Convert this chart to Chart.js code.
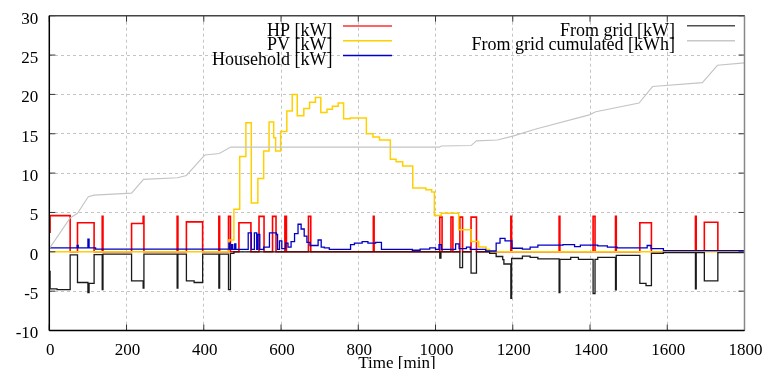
<!DOCTYPE html>
<html><head><meta charset="utf-8">
<script src="https://cdn.jsdelivr.net/npm/chart.js@4.4.1/dist/chart.umd.min.js"></script>
<style>html,body{margin:0;padding:0;background:#fff;overflow:hidden}#wrap{width:765px;height:369px;position:relative}</style>
</head><body><div id="wrap"><canvas id="c"></canvas></div>
<script>
// ---- axis ticks ----
const xTickValues = [0,200,400,600,800,1000,1200,1400,1600,1800];
const yTickValues = [-10,-5,0,5,10,15,20,25,30];
const xTitle = 'Time [min]';

// ---- series labels ----
const seriesLabels = ['HP [kW]','PV [kW]','Household [kW]','From grid [kW]','From grid cumulated [kWh]'];

// ---- HP [kW] (step: value holds from time until next time) ----
const hpTime = [0,2,54,73,116,137,139,213,243,245,331,333,355,397,439,441,464,469,491,522,543,556,578,587,610,614,671,677,839,841,1011,1017,1040,1045,1063,1070,1092,1106,1195,1197,1320,1322,1408,1413,1466,1468,1529,1559,1673,1675,1696,1731,1800];
const hpKW   = [2.5,4.6,0,3.7,0,4.5,0,3.6,4.5,0,4.5,0,3.8,0,4.5,0,4.5,0,3.7,0,4.5,0,4.5,0,4.5,0,4.5,0,4.5,0,4.4,0,4.4,0,4.4,0,4.4,0,4.5,0,4.5,0,4.5,0,4.5,0,3.7,0,4.5,0,3.75,0,0];

// ---- PV [kW] ----
const pvTime = [0,465,478,493,509,523,540,555,569,581,586,599,615,629,642,659,674,689,703,719,733,748,762,779,821,838,855,883,898,915,941,975,990,997,1015,1060,1092,1112,1131,1140,1800];
const pvKW   = [0,1.5,5.4,12.1,16.4,6.2,9.3,12.8,16.5,14.5,12.8,15.3,17.9,20.0,17.3,18.2,19.0,19.6,17.7,18.1,18.5,18.9,16.9,17.0,15.0,14.6,14.2,11.75,11.45,10.9,8.1,7.9,7.6,4.6,4.9,2.8,1.3,0.6,0.3,0,0];

// ---- Household [kW] ----
const hhTime = [0,72,75,100,103,120,460,465,468,472,475,480,483,490,515,523,531,537,540,545,555,570,588,591,596,602,612,618,626,635,644,652,660,667,675,696,704,712,725,780,790,810,825,845,860,940,960,985,1000,1009,1015,1052,1061,1080,1090,1130,1157,1167,1180,1198,1225,1245,1265,1330,1360,1375,1420,1445,1470,1548,1558,1590,1800];
const hhKW   = [0.5,0.8,0.5,1.6,0.5,0.35,0.35,1.1,0.3,0.9,0.3,1.0,0.3,0.3,2.4,0.3,2.4,0.3,2.2,0.3,0.6,2.4,2.2,0.3,1.4,0.4,1.1,0.6,1.3,2.3,3.5,2.9,2.0,1.2,0.8,1.5,0.6,0.5,0.3,0.9,1.1,1.3,1.1,1.2,0.3,0.2,0.35,0.5,0.3,0.9,0.3,1.0,0.4,0.6,0.3,0.1,1.1,1.7,1.4,0.45,0.33,0.6,0.85,0.9,0.65,0.85,0.75,0.6,0.5,0.8,0.4,0.15,0.15];

// ---- From grid [kW] ----
const gridTime = [0,2,20,54,73,100,103,116,137,139,213,243,245,331,333,355,375,397,439,441,464,469,478,1011,1014,1063,1070,1092,1106,1140,1157,1174,1177,1195,1197,1225,1245,1265,1320,1322,1350,1370,1408,1413,1420,1466,1468,1529,1545,1559,1590,1673,1675,1696,1731,1800];
const gridKW   = [-2.5,-4.7,-4.8,-0.4,-3.9,-5.2,-4.0,-0.35,-4.8,-0.3,-3.7,-4.6,-0.3,-4.6,-0.3,-3.7,-3.9,-0.3,-4.6,-0.3,-4.8,-0.2,0,-0.8,0,-2.0,0,-2.7,0,-0.2,-0.6,-1.0,-1.55,-5.9,-0.85,-0.55,-0.7,-0.9,-5.2,-0.95,-0.7,-0.95,-5.3,-0.95,-0.7,-4.85,-0.45,-4.0,-4.3,-0.2,-0.1,-4.7,-0.1,-3.7,-0.1,-0.1];

// ---- From grid cumulated [kWh] (linear) ----
const cumTime = [0,54,73,101,116,213,244,332,355,397,403,440,470,1010,1015,1092,1106,1160,1200,1260,1398,1415,1527,1562,1691,1730,1800];
const cumKWh  = [0.4,4.3,4.9,7.0,7.2,7.45,9.2,9.4,9.7,12.0,12.3,12.5,13.3,13.3,13.45,13.5,14.1,14.2,14.7,15.6,17.4,17.8,18.9,21.0,21.5,23.7,24.0];

const colors = ['#ff0000','#ffd000','#0000c8','#1a1a1a','#c4c4c4'];
const widths = [1.6,1.5,1.3,1.3,1.1];
const legendLineColors = ['#ff3030','#ffd000','#0000c8','#505050','#c8c8c8'];

const toPts = (t,v) => t.map((ti,i)=>({x:ti,y:v[i]}));
const FONT = "'Liberation Serif','Times New Roman',serif";

const framePlugin = {
  id:'frame',
  afterDraw(chart){
    const {ctx, chartArea:a, scales:{x,y}} = chart;
    ctx.save();
    const seg=(x1,y1,x2,y2)=>{ctx.beginPath();ctx.moveTo(x1,y1);ctx.lineTo(x2,y2);ctx.stroke();};
    ctx.strokeStyle='#333'; ctx.lineWidth=1; ctx.setLineDash([]);
    xTickValues.forEach(v=>{const px=x.getPixelForValue(v); seg(px,a.bottom,px,a.bottom-6); seg(px,a.top,px,a.top+6);});
    yTickValues.forEach(v=>{const py=y.getPixelForValue(v); seg(a.left,py,a.left+6,py); seg(a.right,py,a.right-6,py);});
    ctx.lineWidth=1.5;
    ctx.strokeStyle='#444'; seg(a.left,a.top,a.right,a.top);
    ctx.strokeStyle='#888'; seg(a.right,a.top,a.right,a.bottom);
    ctx.strokeStyle='#000'; seg(a.left,a.top,a.left,a.bottom); seg(a.left,a.bottom,a.right,a.bottom);
    // legend
    ctx.font = '18px ' + FONT;
    ctx.fillStyle='#000'; ctx.textAlign='right'; ctx.textBaseline='alphabetic';
    const left = [[0,35.5,26],[1,50,40.7],[2,64.5,55.6]];
    left.forEach(([i,ty,ly])=>{
      ctx.fillText(seriesLabels[i],332.5,ty);
      ctx.strokeStyle=legendLineColors[i]; ctx.lineWidth=1.5; seg(343,ly,392,ly);
    });
    const right = [[3,35.5,25.8],[4,50,40.7]];
    right.forEach(([i,ty,ly])=>{
      ctx.fillText(seriesLabels[i],675,ty);
      ctx.strokeStyle=legendLineColors[i]; ctx.lineWidth=1.5; seg(687,ly,735,ly);
    });
    ctx.restore();
  }
};

const mk = (i,t,v,stepped,order)=>({label:seriesLabels[i],data:toPts(t,v),borderColor:colors[i],backgroundColor:colors[i],borderWidth:widths[i],pointRadius:0,stepped:stepped,order:order,fill:false});

new Chart(document.getElementById('c'),{
  type:'line',
  data:{datasets:[
    mk(0,hpTime,hpKW,true,5),
    mk(1,pvTime,pvKW,true,4),
    mk(2,hhTime,hhKW,true,3),
    mk(3,gridTime,gridKW,true,2),
    mk(4,cumTime,cumKWh,false,1)
  ]},
  options:{
    responsive:true, maintainAspectRatio:false, animation:false,
    layout:{autoPadding:false,padding:{top:15.7,right:20.5,left:0,bottom:0}},
    plugins:{legend:{display:false},tooltip:{enabled:false}},
    scales:{
      x:{type:'linear',min:0,max:1800,
        afterBuildTicks:s=>{s.ticks=xTickValues.map(v=>({value:v}));},
        afterFit:s=>{s.height=38.5; s.paddingLeft=0; s.paddingRight=0;},
        ticks:{color:'#000',font:{family:FONT,size:17},padding:9.5,labelOffset:1,maxRotation:0,autoSkip:false,callback:v=>String(v)},
        grid:{color:'#c4c4c4',lineWidth:1,drawTicks:false},
        border:{display:false,dash:[3,3]},
        title:{display:true,text:xTitle,color:'#000',font:{family:FONT,size:17,lineHeight:0.65},padding:0}
      },
      y:{type:'linear',min:-10,max:30,
        afterBuildTicks:s=>{s.ticks=yTickValues.map(v=>({value:v}));},
        afterFit:s=>{s.width=49.3; s.paddingTop=0; s.paddingBottom=0;},
        ticks:{color:'#000',font:{family:FONT,size:17},padding:11,labelOffset:3.5,callback:v=>String(v)},
        grid:{color:'#c4c4c4',lineWidth:1,drawTicks:false},
        border:{display:false,dash:[3,3]}
      }
    }
  },
  plugins:[framePlugin]
});
</script></body></html>
